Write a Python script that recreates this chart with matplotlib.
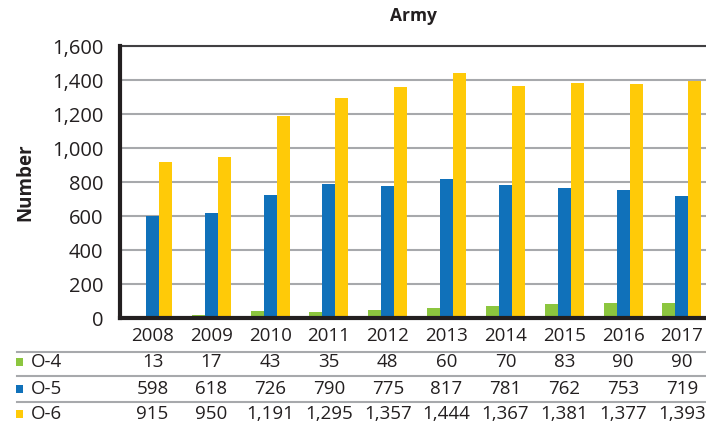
import numpy as np
import matplotlib
matplotlib.use("Agg")
import matplotlib.pyplot as plt
import matplotlib.transforms as mtransforms
from matplotlib.patches import Rectangle
from matplotlib.ticker import FuncFormatter

plt.rcParams['font.family'] = ['Open Sans', 'DejaVu Sans']

# data
years = ['2008', '2009', '2010', '2011', '2012', '2013', '2014', '2015', '2016', '2017']
o4 = [13, 17, 43, 35, 48, 60, 70, 83, 90, 90]
o5 = [598, 618, 726, 790, 775, 817, 781, 762, 753, 719]
o6 = [915, 950, 1191, 1295, 1357, 1444, 1367, 1381, 1377, 1393]
series = ['O-4', 'O-5', 'O-6']
colors = ['#8CC63F', '#1071BA', '#FFCA08']

fig = plt.figure(figsize=(7.06, 4.28), dpi=100)
ax = fig.add_axes([0.170, 0.257, 0.830, 0.6355])

x = np.arange(len(years))
w = 0.221
for i, (vals, c) in enumerate(zip([o4, o5, o6], colors)):
    ax.bar(x + (i - 1) * w, vals, w, color=c, linewidth=0, zorder=2)

ax.set_xlim(-0.552, 9.41)
ax.set_ylim(0, 1600)
ax.set_yticks(np.arange(0, 1601, 200))
ax.yaxis.set_major_formatter(FuncFormatter(lambda v, p: f'{int(v):,}'))
ax.tick_params(axis='y', length=0, pad=12, labelsize=14.5, colors='#231F20')
ax.set_xticks([])
ax.grid(axis='y', color='#A7A9AC', linewidth=1.5, zorder=0)

ax.spines['right'].set_visible(False)
ax.spines['top'].set_color('#414042')
ax.spines['top'].set_linewidth(1.5)
for s in ['left', 'bottom']:
    ax.spines[s].set_color('#231F20')
    ax.spines[s].set_linewidth(3)
    ax.spines[s].set_zorder(4)

ax.set_ylabel('Number', fontsize=13.5, fontweight='bold', color='#231F20', labelpad=12)
ax.set_title('Army', fontsize=12.5, fontweight='bold', color='#231F20', pad=18)

# data table below the chart
H = 428.0
def fy(py):
    return 1 - py / H

tfig = fig.transFigure
blend = mtransforms.blended_transform_factory(ax.transData, tfig)

for xi, yr in zip(x, years):
    ax.text(xi, fy(336), yr, transform=blend, ha='center', va='center',
            fontsize=13.5, color='#231F20', clip_on=False)

row_y = [362, 389, 414]
for name, vals, c, ry in zip(series, [o4, o5, o6], colors, row_y):
    for xi, v in zip(x, vals):
        ax.text(xi, fy(ry), f'{v:,}', transform=blend, ha='center', va='center',
                fontsize=13.5, color='#231F20', clip_on=False)
    fig.add_artist(Rectangle((16 / 706, fy(ry + 4)), 7 / 706, 8 / H, transform=tfig,
                             facecolor=c, edgecolor='none'))
    fig.text(31 / 706, fy(ry), name, ha='left', va='center', fontsize=13.5, color='#231F20')

for ly in [352, 376, 402]:
    fig.add_artist(plt.Line2D([17 / 706, 1], [fy(ly), fy(ly)], transform=tfig,
                              color='#A7A9AC', linewidth=1.5))

fig.savefig('out.png', dpi=100)
